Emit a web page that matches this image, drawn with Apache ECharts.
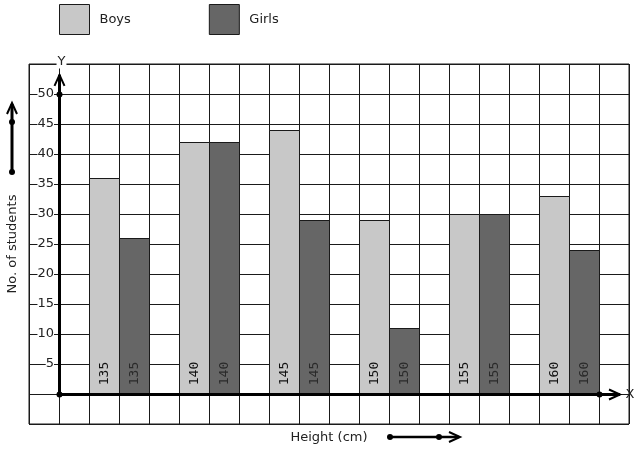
<!DOCTYPE html>
<html><head><meta charset="utf-8">
<script src="https://cdn.jsdelivr.net/npm/echarts@6/dist/echarts.min.js"></script>
<style>html,body{margin:0;padding:0;background:#fff}#c{width:637px;height:450px}</style>
</head><body><div id="c"></div>
<script>
const categories = ['135', '140', '145', '150', '155', '160'];
const boys = [36, 42, 44, 29, 30, 33];
const girls = [26, 42, 29, 11, 30, 24];
const seriesNames = ['Boys', 'Girls'];
const yTickLabels = [5, 10, 15, 20, 25, 30, 35, 40, 45, 50];

const BOY_COLOR = '#c8c8c8', GIRL_COLOR = '#666666', INK = '#1a1a1a';
const FONT = '"DejaVu Sans", sans-serif';

// group i: boys in column 1.5+3i, girls in column 2.5+3i (x axis is in grid-column units)
const boysData = boys.map((v, i) => [1.5 + 3 * i, v, i]);
const girlsData = girls.map((v, i) => [2.5 + 3 * i, v, i]);

function px(v) { return Math.round(v) + 0.5; }

function makeRender(fill, textColor) {
  return function (params, api) {
    const x = api.value(0), v = api.value(1), idx = api.value(2);
    const tl = api.coord([x - 0.5, v]);
    const br = api.coord([x + 0.5, 0]);
    const x0 = px(tl[0]), x1 = px(br[0]), y0 = px(tl[1]), y1 = px(br[1]);
    return {
      type: 'group',
      children: [
        { type: 'rect', shape: { x: x0, y: y0, width: x1 - x0, height: y1 - y0 },
          style: { fill: fill, stroke: INK, lineWidth: 1 } },
        { type: 'text', x: (x0 + x1) / 2, y: y1 - 21, rotation: Math.PI / 2,
          style: { text: categories[idx], fill: textColor, font: '13px "DejaVu Sans Mono", monospace',
                   align: 'center', verticalAlign: 'middle' } }
      ]
    };
  };
}

const chart = echarts.init(document.getElementById('c'), null, { renderer: 'canvas' });
const option = {
  animation: false,
  backgroundColor: '#fff',
  legend: {
    left: 59, top: 4, padding: 0, itemWidth: 30, itemHeight: 30, itemGap: 78,
    icon: 'rect',
    data: seriesNames,
    itemStyle: { borderColor: INK, borderWidth: 1 },
    textStyle: { fontFamily: FONT, fontSize: 13, color: '#222', width: 60, padding: [0, 0, 0, 5] },
    selectedMode: false
  },
  grid: { left: 29, right: 8, top: 64, bottom: 26, outerBoundsMode: 'none', containLabel: false,
          show: true, borderColor: INK, borderWidth: 1, backgroundColor: 'transparent' },
  xAxis: {
    type: 'value', min: -1, max: 19, interval: 1,
    name: 'Height (cm)', nameLocation: 'middle', nameGap: 7,
    nameTextStyle: { fontFamily: FONT, fontSize: 13, color: '#222' },
    axisLine: { show: false }, axisTick: { show: false }, axisLabel: { show: false },
    splitLine: { show: true, lineStyle: { color: INK, width: 1 } }
  },
  yAxis: {
    type: 'value', min: -5, max: 55, interval: 5,
    name: 'No. of students', nameLocation: 'middle', nameGap: 10, nameRotate: 90,
    nameTextStyle: { fontFamily: FONT, fontSize: 13, color: '#222' },
    axisLine: { show: false }, axisTick: { show: false },
    axisLabel: {
      inside: true, margin: 25, align: 'right',
      fontFamily: FONT, fontSize: 13, color: '#222', backgroundColor: '#fff', padding: [0, 0, 0, 0],
      formatter: v => yTickLabels.indexOf(v) >= 0 ? String(v) : ''
    },
    splitLine: { show: true, lineStyle: { color: INK, width: 1 } }
  },
  series: [
    { name: seriesNames[0], type: 'custom', data: boysData, encode: { x: 0, y: 1 },
      itemStyle: { color: BOY_COLOR, borderColor: INK }, renderItem: makeRender(BOY_COLOR, '#111') },
    { name: seriesNames[1], type: 'custom', data: girlsData, encode: { x: 0, y: 1 },
      itemStyle: { color: GIRL_COLOR, borderColor: INK }, renderItem: makeRender(GIRL_COLOR, '#2a2a2a') }
  ]
};
chart.setOption(option);

// axes decorations (computed from the chart's scales)
const P = (x, y) => chart.convertToPixel({ gridIndex: 0 }, [x, y]);
const o = P(0, 0), yTop = P(0, 53.2), y50 = P(0, 50), xEnd = P(18.7, 0), x18 = P(18, 0);
const ox = px(o[0]), oy = px(o[1]);
const dot = (cx, cy, r) => ({ type: 'circle', z: 100, shape: { cx, cy, r: r || 2.5 }, style: { fill: '#000' } });
const line = (pts, w) => ({ type: 'polyline', z: 100, shape: { points: pts }, style: { stroke: '#000', lineWidth: w, fill: null } });
chart.setOption({
  graphic: [
    line([[ox, oy], [ox, yTop[1]]], 3),
    line([[ox - 5, yTop[1] + 11], [ox, yTop[1]], [ox + 5, yTop[1] + 11]], 2),
    dot(ox, oy, 3), dot(ox, px(y50[1]), 3),
    line([[ox, oy], [xEnd[0], oy]], 3),
    line([[xEnd[0] - 11, oy - 5], [xEnd[0], oy], [xEnd[0] - 11, oy + 5]], 2),
    dot(px(x18[0]), oy, 3),
    { type: 'text', z: 100, x: xEnd[0] + 10, y: oy, style: { text: 'X', font: '13px ' + FONT, fill: '#222', align: 'center', verticalAlign: 'middle' } },
    { type: 'text', z: 100, x: ox + 2, y: 62, style: { text: 'Y', font: '13px ' + FONT, fill: '#222', align: 'center', verticalAlign: 'middle', backgroundColor: '#fff', padding: [0, 1] } },
    // left arrow beside the y name
    line([[12, 172], [12, 104]], 3),
    line([[7, 114], [12, 103], [17, 114]], 2),
    dot(12, 172, 3), dot(12, 122, 3),
    // arrow beside the x name
    line([[390, 437], [459, 437]], 2.5),
    line([[449, 432], [460, 437], [449, 442]], 2),
    dot(390, 437, 3), dot(439, 437, 3)
  ]
});
</script></body></html>
